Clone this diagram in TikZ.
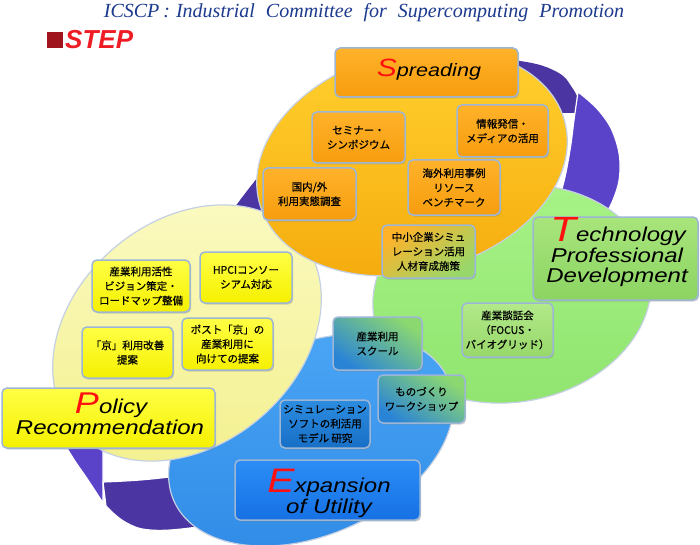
\documentclass[tikz,border=0pt]{standalone}
\usepackage{fontspec}
\setmainfont{Liberation Sans}
\newfontfamily\jp[FakeBold=0.6]{Noto Sans CJK JP}
\newfontfamily\ttlfont{Liberation Serif}
\newfontfamily\labfont[FakeStretch=1.2]{Liberation Sans}
\usetikzlibrary{shadows}
\definecolor{ringdark}{HTML}{4A35A2}
\definecolor{ringlight}{HTML}{5A43C8}
\definecolor{orgA}{HTML}{FFD02E}
\definecolor{orgB}{HTML}{F5A90B}
\definecolor{yelA}{HTML}{FBFAC2}
\definecolor{yelB}{HTML}{F3F08E}
\definecolor{grnA}{HTML}{A6F286}
\definecolor{grnB}{HTML}{8FE46E}
\definecolor{bluA}{HTML}{4AA5F5}
\definecolor{bluB}{HTML}{2F8BE6}
\definecolor{elledge}{HTML}{C5D0E2}
\definecolor{boxedge}{HTML}{9EB6D6}
\definecolor{obA}{HTML}{FFB22A}
\definecolor{obB}{HTML}{F79D0E}
\definecolor{ybA}{HTML}{FFFF45}
\definecolor{ybB}{HTML}{F5F000}
\definecolor{gbA}{HTML}{B2E98A}
\definecolor{gbB}{HTML}{98D86A}
\definecolor{tbA}{HTML}{A8E57C}
\definecolor{tbB}{HTML}{8CD462}
\definecolor{ebA}{HTML}{2C8EF6}
\definecolor{ebB}{HTML}{1670E4}
\definecolor{sbA}{HTML}{2C8CE0}
\definecolor{sbB}{HTML}{176FC6}
\definecolor{tealG}{HTML}{8CD870}
\definecolor{tealB}{HTML}{2A84D6}
\definecolor{lred}{HTML}{FF1010}
\definecolor{ttlblue}{HTML}{1C3A8E}
\definecolor{stepsq}{HTML}{A0141E}
\definecolor{stepred}{HTML}{EE1C24}
\newcommand\jptext{\jp\fontsize{10.5}{14.5}\selectfont}
\tikzset{
  ell/.style={draw=elledge, line width=1.2pt},
  jbox/.style={draw=boxedge, line width=1.5pt, rounded corners=5pt, inner sep=0pt,
    align=center, font=\jptext, text=black,
    drop shadow={shadow xshift=1.2pt, shadow yshift=-1.5pt, opacity=0.35}},
  orgbox/.style={jbox, top color=obA, bottom color=obB},
  yelbox/.style={jbox, top color=ybA, bottom color=ybB},
  grnbox/.style={jbox, top color=gbA, bottom color=gbB},
  lab/.style={font=\labfont\itshape\fontsize{20}{20}\selectfont, text=black, inner sep=0pt, anchor=base},
  seg/.style={draw=white, line width=1.2pt}
}
\begin{document}
\begin{tikzpicture}[x=1pt,y=-1pt]
\useasboundingbox (0,0) rectangle (700,545);
\fill[white] (0,0) rectangle (700,545);

% ---- purple cycle ring (back layer) ----
\fill[ringdark] plot[smooth, tension=0.7] coordinates
   {(230,214) (254,182) (302,124) (380,76) (460,58) (520,61) (557,72) (573,89) (580,104)}
   -- (580,113) -- plot[smooth, tension=0.7] coordinates
   {(548,113) (500,112) (400,125) (305,180) (268,228)} -- cycle;
\filldraw[seg, fill=ringlight] plot[smooth, tension=0.7] coordinates
   {(578,92) (600,112) (615,138) (620,170) (613,200) (598,226) (585,248)}
   -- plot[smooth, tension=0.7] coordinates
   {(545,245) (553,215) (563,185) (570,150) (574,120) (578,92)} -- cycle;
\filldraw[seg, fill=ringlight] plot[smooth, tension=0.7] coordinates
   {(56,420) (63,440) (73,458) (88,480) (103,503)} -- (103,430) -- cycle;
\filldraw[seg, fill=ringdark] (103,482) -- plot[smooth, tension=0.7] coordinates
   {(106,506) (125,522) (150,530) (190,528) (215,522) (255,505)}
   -- (240,468) -- plot[smooth, tension=0.7] coordinates
   {(210,471) (177,476) (140,480) (103,482)} -- cycle;

% ---- ellipses ----
\draw[ell, top color=grnA, bottom color=grnB, rotate around={10:(512,294)}]
  (512,294) ellipse[x radius=140, y radius=108];
\draw[ell, top color=bluA, bottom color=bluB, rotate around={24:(311,440)}]
  (311,440) ellipse[x radius=150, y radius=95];
\draw[ell, top color=yelA, bottom color=yelB, rotate around={40:(187,333)}]
  (187,333) ellipse[x radius=148, y radius=112];
\draw[ell, top color=orgA, bottom color=orgB, rotate around={15:(412,162)}]
  (412,162) ellipse[x radius=158, y radius=110];

% ---- Spreading ----
\node[orgbox, minimum width=183pt, minimum height=49pt] (spr) at (426.5,72.5) {};
\node[lab, font=\labfont\itshape\fontsize{18}{18}\selectfont] (sprt) at (429,77)
  {\textcolor{lred}{\fontsize{25}{25}\selectfont S}preading};
\node[orgbox, minimum width=93pt, minimum height=51pt] (sem) at (358.5,137.5) {セミナー・\\シンポジウム};
\node[orgbox, minimum width=91pt, minimum height=52pt] (joh) at (502.5,131) {情報発信・\\メディアの活用};
\node[orgbox, minimum width=93pt, minimum height=52pt] (kok) at (309.5,194) {国内/外\\利用実態調査};
\node[orgbox, minimum width=92pt, minimum height=55pt] (kai) at (454,187.5) {海外利用事例\\リソース\\ベンチマーク};
\node[jbox, top color=obA, bottom color=gbB, shading angle=35, minimum width=93pt, minimum height=53pt] (chu) at (428.5,251.5) {中小企業シミュ\\レーション活用\\人材育成施策};

% ---- Technology ----
\node[jbox, top color=tbA, bottom color=tbB, minimum width=165pt, minimum height=83pt] (tech) at (615.5,258.5) {};
\node[lab] (t1) at (618,241) {\textcolor{lred}{\fontsize{35}{35}\selectfont T}echnology};
\node[lab] (t2) at (617,262.5) {Professional};
\node[lab] (t3) at (617,282) {Development};
\node[grnbox, minimum width=91pt, minimum height=54pt] (dan) at (507.5,330) {産業談話会\\（FOCUS・\\バイオグリッド）};

% ---- Policy ----
\node[yelbox, minimum width=98pt, minimum height=52pt] (san) at (141,286) {産業利用活性\\ビジョン策定・\\ロードマップ整備};
\node[yelbox, minimum width=92pt, minimum height=51pt] (hpc) at (246,277.5) {HPCIコンソー\\シアム対応};
\node[yelbox, minimum width=91pt, minimum height=51pt] (kyo) at (127.5,352.5) {「京」利用改善\\提案};
\node[yelbox, minimum width=91pt, minimum height=52pt] (pos) at (227.5,344) {ポスト「京」の\\産業利用に\\向けての提案};
\node[yelbox, minimum width=213pt, minimum height=60pt] (pol) at (108.5,418) {};
\node[lab] (p1) at (111,413) {\textcolor{lred}{\fontsize{30}{30}\selectfont P}olicy};
\node[lab] (p2) at (110,434.5) {Recommendation};

% ---- Expansion ----
\node[jbox, top color=tealG, bottom color=tealB, shading angle=-35, minimum width=89pt, minimum height=53pt] (sch) at (377.5,343.5) {産業利用\\スクール};
\node[jbox, top color=tealG, bottom color=tealB, shading angle=-35, minimum width=87pt, minimum height=48pt] (mon) at (421.5,399) {ものづくり\\ワークショップ};
\node[jbox, top color=sbA, bottom color=sbB, minimum width=90pt, minimum height=48pt] (sim) at (325,424) {シミュレーション\\ソフトの利活用\\モデル 研究};
\node[jbox, top color=ebA, bottom color=ebB, minimum width=185pt, minimum height=60pt] (exp) at (327.5,490) {};
\node[lab] (e1) at (329,492) {\textcolor{lred}{\fontsize{34}{34}\selectfont E}xpansion};
\node[lab] (e2) at (329,513.5) {of\hspace{7pt}Utility};

% ---- header ----
\node[anchor=base, text=ttlblue, inner sep=0pt, font=\ttlfont\itshape\fontsize{20}{20}\selectfont] (title) at (364,18)
  {ICSCP\hspace{4pt}:\hspace{6pt}Industrial\hspace{11pt}Committee\hspace{11pt}for\hspace{11pt}Supercomputing\hspace{11pt}Promotion};
\fill[stepsq] (47,32) rectangle (63,48);
\node[anchor=base west, text=stepred, inner sep=0pt, font=\bfseries\itshape\fontsize{26}{26}\selectfont] (step) at (65,49) {STEP};
\end{tikzpicture}
\end{document}
